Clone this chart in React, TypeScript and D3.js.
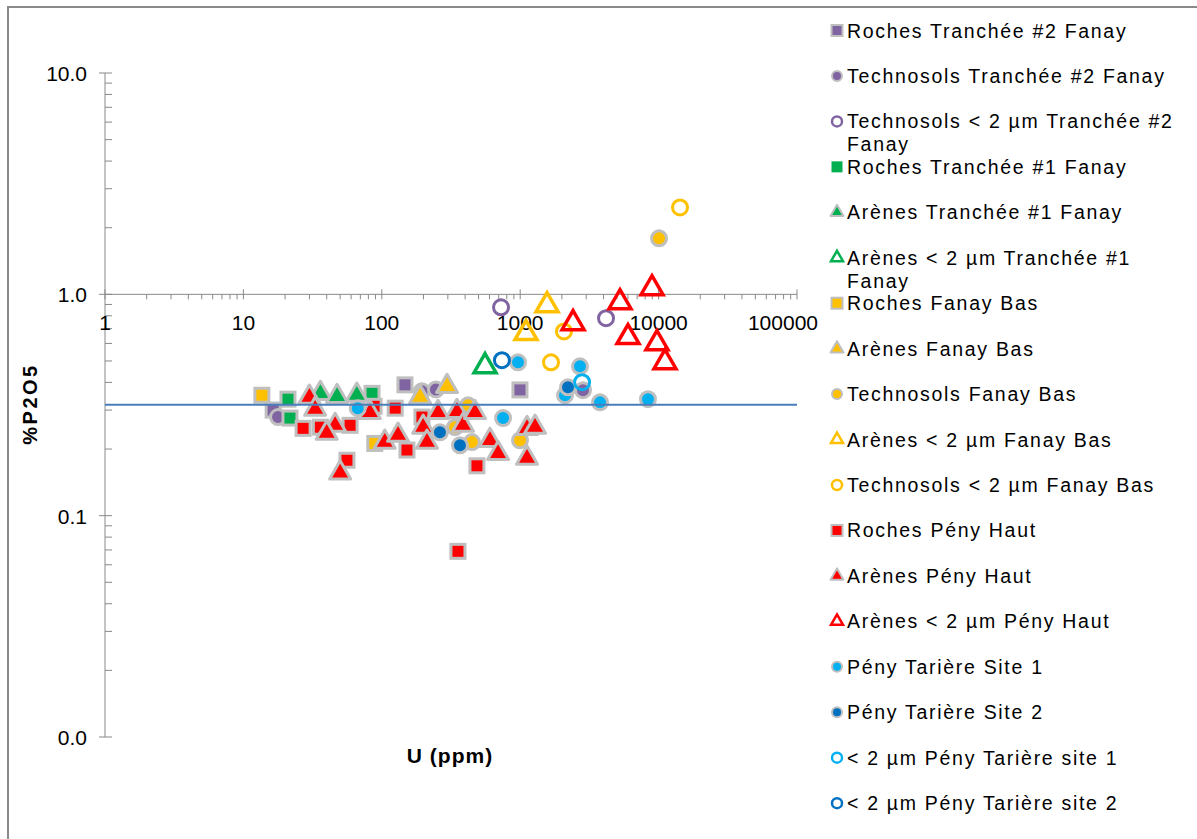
import React from "react";
import * as d3 from "d3";

const W = 1197;
const H = 839;

type Pt = [number, number]; // [U ppm, %P2O5]

// ---- data ----
const rochesT2: Pt[] = [[16.4, 0.3], [147, 0.39], [996, 0.37]];
const technosolsT2: Pt[] = [[17.8, 0.279], [195, 0.365], [246, 0.372], [2843, 0.369]];
const technosolsFinT2: Pt[] = [[727, 0.874], [4170, 0.78]];
const rochesT1: Pt[] = [[21, 0.336], [21.7, 0.276], [85, 0.357]];
const arenesT1: Pt[] = [[36, 0.357], [47.5, 0.346], [66, 0.35]];
const arenesFinT1: Pt[] = [[557, 0.473]];
const rochesFB: Pt[] = [[13.6, 0.35], [89, 0.212]];
const arenesFB: Pt[] = [[189, 0.343], [296, 0.384]];
const technosolsFB: Pt[] = [[10070, 1.79], [338, 0.251], [448, 0.215], [997, 0.219], [420, 0.315]];
const arenesFinFB: Pt[] = [[1563, 0.892], [1101, 0.667]];
const technosolsFinFB: Pt[] = [[14280, 2.47], [2072, 0.68], [1670, 0.493]];
const rochesPH: Pt[] = [
  [27, 0.248], [36, 0.251], [59, 0.256], [56, 0.178], [88, 0.312], [125, 0.306],
  [152, 0.198], [195, 0.279], [487, 0.168], [355, 0.069],
];
const arenesPH: Pt[] = [
  [30, 0.343], [33, 0.303], [46, 0.256], [40, 0.236], [50, 0.156], [82, 0.293],
  [105, 0.215], [131, 0.231], [199, 0.251], [212, 0.215], [255, 0.293], [349, 0.296],
  [386, 0.256], [471, 0.293], [605, 0.219], [692, 0.191], [1120, 0.248], [1280, 0.251],
  [1120, 0.182],
];
const arenesFinPH: Pt[] = [[2409, 0.74], [5260, 0.92], [8960, 1.064], [6010, 0.64], [9730, 0.601], [11120, 0.493]];
const tariere1: Pt[] = [[67, 0.306], [752, 0.276], [964, 0.493], [2704, 0.473], [2107, 0.35], [3773, 0.325], [8380, 0.336]];
const tariere2: Pt[] = [[263, 0.238], [367, 0.208], [2215, 0.38]];
const tariereFin1: Pt[] = [[2800, 0.401]];
const tariereFin2: Pt[] = [[738, 0.504]];

const refLineValue = 0.317;

const xTicks = [1, 10, 100, 1000, 10000, 100000];
const xTickLabels = ["1", "10", "100", "1000", "10000", "100000"];
const yTicks = [0.01, 0.1, 1, 10];
const yTickLabels = ["0.0", "0.1", "1.0", "10.0"];

const PURPLE = "#8064A2";
const GREEN = "#00B050";
const YELLOW = "#FFC000";
const RED = "#FF0000";
const LBLUE = "#00B0F0";
const DBLUE = "#0070C0";
const BORDER = "#BFBFBF";

type Shape = "square" | "circle" | "triangle";
interface Series {
  label: string[];
  data: Pt[];
  shape: Shape;
  filled: boolean;
  color: string;
  legendBorder?: boolean;
}

const series: Series[] = [
  { label: ["Roches Tranchée #2 Fanay"], data: rochesT2, shape: "square", filled: true, color: PURPLE },
  { label: ["Technosols Tranchée #2 Fanay"], data: technosolsT2, shape: "circle", filled: true, color: PURPLE },
  { label: ["Technosols < 2 µm Tranchée #2", "Fanay"], data: technosolsFinT2, shape: "circle", filled: false, color: PURPLE },
  { label: ["Roches Tranchée #1 Fanay"], data: rochesT1, shape: "square", filled: true, color: GREEN, legendBorder: false },
  { label: ["Arènes Tranchée #1 Fanay"], data: arenesT1, shape: "triangle", filled: true, color: GREEN },
  { label: ["Arènes < 2 µm Tranchée #1", "Fanay"], data: arenesFinT1, shape: "triangle", filled: false, color: GREEN },
  { label: ["Roches Fanay Bas"], data: rochesFB, shape: "square", filled: true, color: YELLOW },
  { label: ["Arènes Fanay Bas"], data: arenesFB, shape: "triangle", filled: true, color: YELLOW },
  { label: ["Technosols Fanay Bas"], data: technosolsFB, shape: "circle", filled: true, color: YELLOW },
  { label: ["Arènes < 2 µm Fanay Bas"], data: arenesFinFB, shape: "triangle", filled: false, color: YELLOW },
  { label: ["Technosols < 2 µm Fanay Bas"], data: technosolsFinFB, shape: "circle", filled: false, color: YELLOW },
  { label: ["Roches Pény Haut"], data: rochesPH, shape: "square", filled: true, color: RED },
  { label: ["Arènes Pény Haut"], data: arenesPH, shape: "triangle", filled: true, color: RED },
  { label: ["Arènes < 2 µm Pény Haut"], data: arenesFinPH, shape: "triangle", filled: false, color: RED },
  { label: ["Pény Tarière Site 1"], data: tariere1, shape: "circle", filled: true, color: LBLUE },
  { label: ["Pény Tarière Site 2"], data: tariere2, shape: "circle", filled: true, color: DBLUE },
  { label: ["< 2 µm Pény Tarière site 1"], data: tariereFin1, shape: "circle", filled: false, color: LBLUE },
  { label: ["< 2 µm Pény Tarière site 2"], data: tariereFin2, shape: "circle", filled: false, color: DBLUE },
];

const x = d3.scaleLog().domain([1, 100000]).range([105, 797]);
const y = d3.scaleLog().domain([0.01, 10]).range([737, 73]);

const triPath = (side: number) =>
  d3.symbol().type(d3.symbolTriangle).size((Math.sqrt(3) / 4) * side * side)() as string;

function Marker({ s, legend, withBorder }: { s: Series; legend: boolean; withBorder?: boolean }) {
  const border = withBorder === false ? "none" : BORDER;
  if (s.filled) {
    const sw = legend ? 2 : 3;
    if (s.shape === "square") {
      const a = legend ? 11 : 14;
      return <rect x={-a / 2} y={-a / 2} width={a} height={a} fill={s.color} stroke={border} strokeWidth={sw} />;
    }
    if (s.shape === "circle") {
      return <circle r={legend ? 5 : 7.5} fill={s.color} stroke={border} strokeWidth={sw} />;
    }
    return <path d={triPath(legend ? 13 : 21)} fill={s.color} stroke={border} strokeWidth={sw} strokeLinejoin="round" />;
  }
  const sw = legend ? 2.5 : 3;
  if (s.shape === "circle") {
    return <circle r={legend ? 5 : 7.5} fill="none" stroke={s.color} strokeWidth={sw} />;
  }
  return <path d={triPath(legend ? 12 : 22)} fill="none" stroke={s.color} strokeWidth={legend ? 2.5 : 3.5} />;
}

export default function App() {
  const axisColor = "#898989";
  const minorX: number[] = [];
  for (let d = 1; d < 100000; d *= 10) for (let k = 2; k <= 9; k++) minorX.push(d * k);
  const minorY: number[] = [];
  for (let d = 0.01; d < 10; d *= 10) for (let k = 2; k <= 9; k++) minorY.push(d * k);
  const x0 = x(1);
  const yAxisAt = y(1);
  const font = "'Liberation Sans', Arial, sans-serif";

  return (
    <svg
      width={W}
      height={H}
      style={{ position: "absolute", left: 0, top: 0, background: "#fff" }}
      fontFamily={font}
    >
      <rect x={0} y={0} width={W} height={H} fill="#fff" />
      <rect x={8} y={7} width={W + 20} height={H + 20} fill="none" stroke="#8a8a8a" strokeWidth={2} />

      {/* y axis */}
      <line x1={x0} x2={x0} y1={y(10)} y2={y(0.01)} stroke={axisColor} strokeWidth={1} />
      {minorY.map((v, i) => (
        <line key={"my" + i} x1={x0} x2={x0 + 7} y1={y(v)} y2={y(v)} stroke={axisColor} />
      ))}
      {yTicks.map((v, i) => (
        <g key={"ty" + i}>
          <line x1={x0 - 6} x2={x0 + 7} y1={y(v)} y2={y(v)} stroke={axisColor} />
          <text x={87} y={y(v) + 8} textAnchor="end" fontSize={21} fill="#000">
            {yTickLabels[i]}
          </text>
        </g>
      ))}

      {/* x axis (crossing at 1.0) */}
      <line x1={x(1)} x2={x(100000)} y1={yAxisAt} y2={yAxisAt} stroke={axisColor} strokeWidth={1} />
      {minorX.map((v, i) => (
        <line key={"mx" + i} x1={x(v)} x2={x(v)} y1={yAxisAt} y2={yAxisAt + 5} stroke={axisColor} />
      ))}
      {xTicks.map((v, i) => (
        <g key={"tx" + i}>
          <line x1={x(v)} x2={x(v)} y1={yAxisAt - 5} y2={yAxisAt + 5} stroke={axisColor} />
          <text
            x={i === xTicks.length - 1 ? x(v) + 21 : x(v)}
            y={330}
            textAnchor={i === xTicks.length - 1 ? "end" : "middle"}
            fontSize={21}
            fill="#000"
          >
            {xTickLabels[i]}
          </text>
        </g>
      ))}

      {/* series */}
      {series.map((s, si) => (
        <g key={"s" + si}>
          {s.data.map((p, pi) => (
            <g key={pi} transform={`translate(${x(p[0])},${y(p[1])})`}>
              <Marker s={s} legend={false} />
            </g>
          ))}
        </g>
      ))}

      {/* reference line */}
      <line x1={x(1)} x2={x(100000)} y1={y(refLineValue)} y2={y(refLineValue)} stroke="#4A7EBB" strokeWidth={2} />

      {/* axis titles */}
      <text x={450} y={763} textAnchor="middle" fontSize={21} fontWeight="bold" letterSpacing={1}>
        U (ppm)
      </text>
      <text
        transform={`translate(37,404) rotate(-90)`}
        textAnchor="middle"
        fontSize={20}
        fontWeight="bold"
        letterSpacing={2.5}
      >
        %P2O5
      </text>

      {/* legend */}
      {series.map((s, i) => {
        const cy = 30.5 + 45.45 * i;
        return (
          <g key={"lg" + i}>
            <g transform={`translate(837,${cy})`}>
              <Marker s={s} legend={true} withBorder={s.legendBorder} />
            </g>
            {s.label.map((t, li) => (
              <text
                key={li}
                x={847}
                y={cy + 7 + li * 23}
                fontSize={19.5}
                letterSpacing={1.7}
                fill="#000"
              >
                {t}
              </text>
            ))}
          </g>
        );
      })}
    </svg>
  );
}
